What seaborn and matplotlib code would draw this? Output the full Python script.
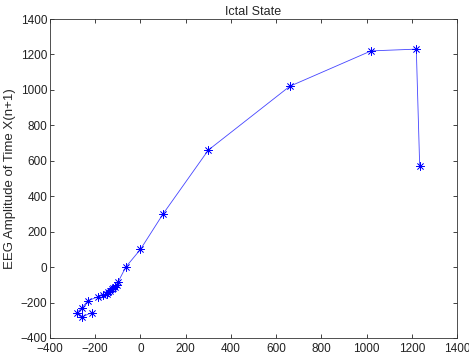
import numpy as np
import pandas as pd
import seaborn as sns
import matplotlib.pyplot as plt

# phase-space pairs: x(n) vs x(n+1)
x_n = [-216, -257, -282, -260, -232, -186, -164, -150, -142, -135, -127,
       -120, -113, -105, -98, -65, 0, 100, 300, 660, 1020, 1220, 1235]
x_n1 = [-257, -280, -257, -232, -189, -167, -157, -150, -139, -133, -125,
        -118, -110, -100, -82, 0, 100, 300, 660, 1020, 1220, 1230, 570]

x_ticks = [-400, -200, 0, 200, 400, 600, 800, 1000, 1200, 1400]
y_ticks = [-400, -200, 0, 200, 400, 600, 800, 1000, 1200, 1400]

sns.set_style("ticks")
plt.rcParams['font.family'] = ['Liberation Sans', 'DejaVu Sans']
plt.rcParams['xtick.direction'] = 'in'
plt.rcParams['ytick.direction'] = 'in'

df = pd.DataFrame({'xn': x_n, 'xn1': x_n1})

fig = plt.figure(figsize=(4.69, 3.55), dpi=100)
ax = fig.add_axes([50 / 469, 17 / 355, 407 / 469, 319 / 355])

# matlab style '*' marker -> 8 armed asterisk
sns.lineplot(data=df, x='xn', y='xn1', sort=False, estimator=None,
             color='#4444ff', linewidth=0.6,
             marker=(8, 2, 0), markersize=6, markeredgewidth=0.5,
             markeredgecolor='#0000ff', ax=ax)

ax.set_xlim(-400, 1400)
ax.set_ylim(-400, 1400)
ax.set_xticks(x_ticks)
ax.set_yticks(y_ticks)
ax.tick_params(labelsize=8.5, length=3, width=0.6, top=True, right=True,
               colors='#222222', pad=2)
ax.tick_params(axis='x', pad=3.5)
for s in ax.spines.values():
    s.set_linewidth(0.6)
    s.set_color('#333333')

ax.set_xlabel('')
ax.set_ylabel('EEG Amplitude of Time X(n+1)', fontsize=9.5, labelpad=3)
ax.set_title('Ictal State', fontsize=9, pad=3)

fig.savefig('out.png', dpi=100)
